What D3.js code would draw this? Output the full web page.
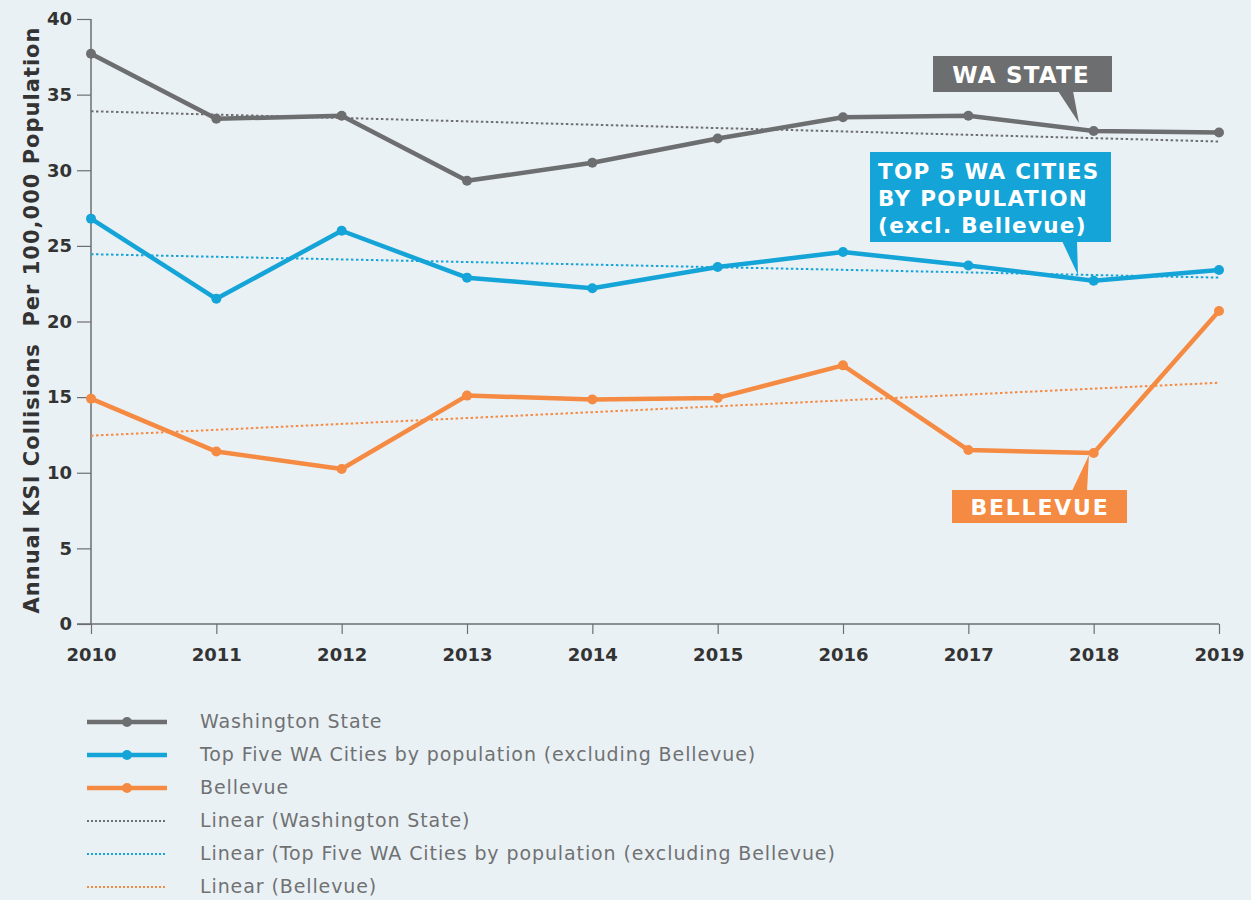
<!DOCTYPE html>
<html>
<head>
<meta charset="utf-8">
<script src="https://cdn.jsdelivr.net/npm/d3@7"></script>
<style>
  html, body { margin: 0; padding: 0; background: #eaf1f5; }
  svg { display: block; font-family: "DejaVu Sans", sans-serif; }
</style>
</head>
<body>
<svg id="chart" width="1251" height="900"></svg>
<script>
// values
var years = [2010, 2011, 2012, 2013, 2014, 2015, 2016, 2017, 2018, 2019];
var waState  = [37.7, 33.4, 33.6, 29.3, 30.5, 32.1, 33.5, 33.6, 32.6, 32.5];
var topFive  = [26.8, 21.5, 26.0, 22.9, 22.2, 23.6, 24.6, 23.7, 22.7, 23.4];
var bellevue = [14.9, 11.4, 10.25, 15.1, 14.85, 14.95, 17.1, 11.5, 11.3, 20.7];
// linear trend endpoints (2010, 2019) as drawn
var waTrend = [33.9, 31.9];
var topTrend = [24.45, 22.9];
var belTrend = [12.45, 15.95];
var yTicks = [0, 5, 10, 15, 20, 25, 30, 35, 40];

var grey = "#6d6e70", blue = "#15a4d7", orange = "#f58a42";

var series = [
  {name: "Washington State", values: waState, trend: waTrend, color: grey},
  {name: "Top Five WA Cities by population (excluding Bellevue)", values: topFive, trend: topTrend, color: blue},
  {name: "Bellevue", values: bellevue, trend: belTrend, color: orange}
];

var svg = d3.select("#chart");

var x = d3.scaleLinear().domain([2010, 2019]).range([91, 1219]);
var y = d3.scaleLinear().domain([0, 40]).range([624, 19]);

// y axis
var yAxis = svg.append("g")
    .attr("transform", "translate(91,0)")
    .call(d3.axisLeft(y).tickValues(yTicks).tickSize(14).tickPadding(5));
yAxis.select(".domain").attr("stroke", grey).attr("stroke-width", 1.5).attr("d", "M0,19V624");
yAxis.selectAll(".tick line").attr("stroke", grey).attr("stroke-width", 1.2);
yAxis.selectAll(".tick text")
    .attr("fill", "#333")
    .style("font-size", "18px")
    .style("font-weight", "bold")
    .style("font-family", "'DejaVu Sans', sans-serif");

// x axis
var xAxis = svg.append("g")
    .attr("transform", "translate(0,624)")
    .call(d3.axisBottom(x).tickValues(years).tickFormat(d3.format("d")).tickSize(10).tickPadding(14));
xAxis.select(".domain").attr("stroke", grey).attr("stroke-width", 1.5).attr("d", "M77,0H1219");
xAxis.selectAll(".tick line").attr("stroke", grey).attr("stroke-width", 1.2);
xAxis.selectAll(".tick text")
    .attr("fill", "#333")
    .style("font-size", "18px")
    .style("font-weight", "bold")
    .style("font-family", "'DejaVu Sans', sans-serif");

// y label
svg.append("text")
    .attr("transform", "translate(32,320) rotate(-90)")
    .attr("text-anchor", "middle")
    .attr("dominant-baseline", "central")
    .attr("fill", "#333")
    .style("font-size", "21px")
    .style("font-weight", "bold")
    .style("letter-spacing", "1px")
    .style("white-space", "pre")
    .text("Annual KSI Collisions  Per 100,000 Population");

// trend lines
series.forEach(function(s) {
  svg.append("line")
    .attr("x1", x(years[0])).attr("y1", y(s.trend[0]))
    .attr("x2", x(years[years.length-1])).attr("y2", y(s.trend[1]))
    .attr("stroke", s.color)
    .attr("stroke-width", 2)
    .attr("stroke-dasharray", "2.5,2.5");
});

// data lines
var line = d3.line()
    .x(function(d, i) { return x(years[i]); })
    .y(function(d) { return y(d); });

series.forEach(function(s) {
  svg.append("path")
    .datum(s.values)
    .attr("d", line)
    .attr("fill", "none")
    .attr("stroke", s.color)
    .attr("stroke-width", 4.5)
    .attr("stroke-linejoin", "round");
  svg.selectAll(null)
    .data(s.values)
    .enter().append("circle")
    .attr("cx", function(d, i) { return x(years[i]); })
    .attr("cy", function(d) { return y(d); })
    .attr("r", 5)
    .attr("fill", s.color);
});

// callouts
function callout(box, pointer, color, lines, fontSize, lineH, tx, anchor, spacing) {
  svg.append("rect")
    .attr("x", box[0]).attr("y", box[1])
    .attr("width", box[2] - box[0]).attr("height", box[3] - box[1])
    .attr("fill", color);
  svg.append("path")
    .attr("d", "M" + pointer.map(function(p) { return p.join(","); }).join("L") + "Z")
    .attr("fill", color);
  var t = svg.append("text")
    .attr("fill", "#fff")
    .attr("text-anchor", anchor)
    .style("font-size", fontSize + "px")
    .style("font-weight", "bold")
    .style("letter-spacing", spacing + "px");
  lines.forEach(function(l, i) {
    t.append("tspan").attr("x", tx[0]).attr("y", tx[1] + i * lineH).text(l);
  });
}

callout([933, 56, 1112, 92], [[1058, 91], [1073, 91], [1079, 123]], grey,
  ["WA STATE"], 23, 0, [1021, 83], "middle", 1.2);
callout([870, 152, 1111, 242], [[1062, 241], [1077, 241], [1078, 275]], blue,
  ["TOP 5 WA CITIES", "BY POPULATION", "(excl. Bellevue)"], 21.5, 27, [878, 179], "start", 1.3);
callout([952, 490, 1127, 523], [[1072, 491], [1087, 491], [1089, 455]], orange,
  ["BELLEVUE"], 22, 0, [1040, 515], "middle", 1.8);

// legend
var legendItems = [
  {label: "Washington State", color: grey, dotted: false},
  {label: "Top Five WA Cities by population (excluding Bellevue)", color: blue, dotted: false},
  {label: "Bellevue", color: orange, dotted: false},
  {label: "Linear (Washington State)", color: grey, dotted: true},
  {label: "Linear (Top Five WA Cities by population (excluding Bellevue)", color: blue, dotted: true},
  {label: "Linear (Bellevue)", color: orange, dotted: true}
];

var legend = svg.selectAll(".legend")
    .data(legendItems)
    .enter().append("g")
    .attr("class", "legend")
    .attr("transform", function(d, i) { return "translate(0," + (722 + i * 33) + ")"; });

legend.append("line")
    .attr("x1", 87).attr("x2", 167)
    .attr("stroke", function(d) { return d.color; })
    .attr("stroke-width", function(d) { return d.dotted ? 2 : 4.5; })
    .attr("stroke-dasharray", function(d) { return d.dotted ? "2,2" : null; });

legend.filter(function(d) { return !d.dotted; })
  .append("circle")
    .attr("cx", 127).attr("r", 5)
    .attr("fill", function(d) { return d.color; });

legend.append("text")
    .attr("x", 200)
    .attr("dy", "0.33em")
    .attr("fill", "#707173")
    .style("font-size", "19px")
    .style("font-family", "'DejaVu Sans', sans-serif")
    .style("letter-spacing", "0.9px")
    .text(function(d) { return d.label; });
</script>
</body>
</html>
